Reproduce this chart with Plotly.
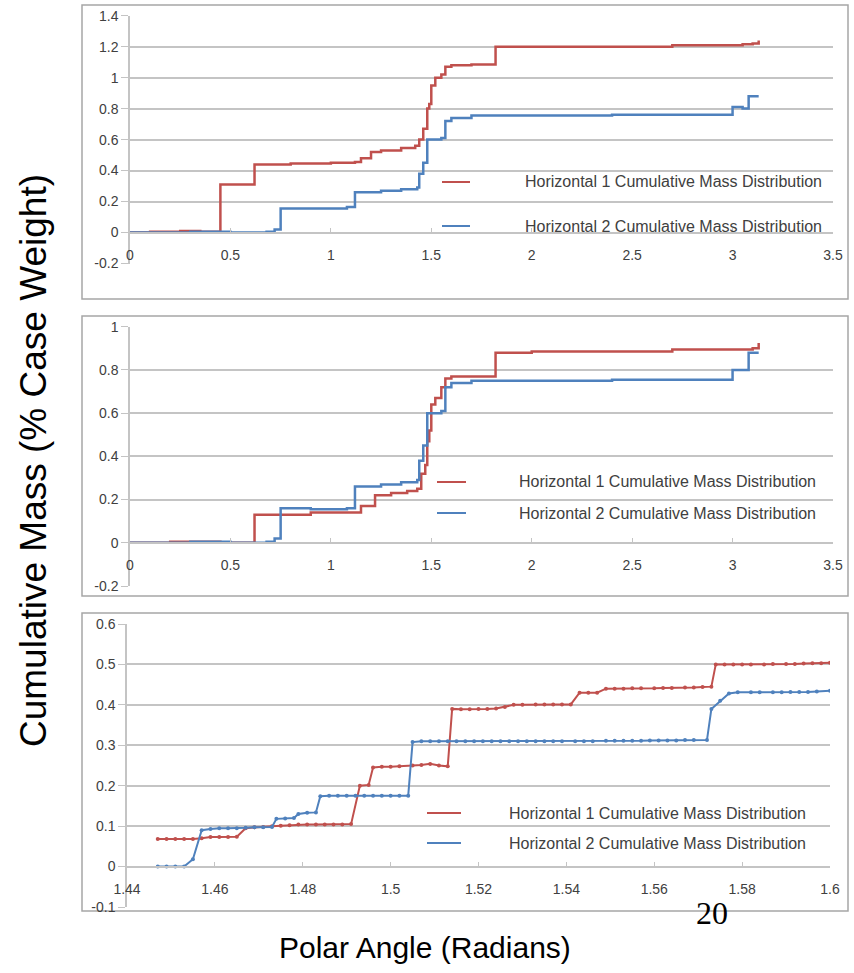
import plotly.graph_objects as go

W, H = 854, 973

# ---------------- data ----------------
series_names = ["Horizontal 1 Cumulative Mass Distribution",
                "Horizontal 2 Cumulative Mass Distribution"]

# Panel 1
p1_red_x = [0, 0.1, 0.25, 0.35, 0.45, 0.62, 0.8, 1.0, 1.12, 1.15, 1.2, 1.25, 1.35, 1.42, 1.44,
            1.46, 1.48, 1.49, 1.5, 1.52, 1.55, 1.57, 1.6, 1.7, 1.82, 2.2, 2.7, 3.05, 3.1, 3.13]
p1_red_y = [0.0, 0.005, 0.01, 0.005, 0.31, 0.44, 0.445, 0.45, 0.455, 0.48, 0.52, 0.53, 0.545, 0.56, 0.6,
            0.67, 0.8, 0.83, 0.95, 1.0, 1.02, 1.07, 1.08, 1.085, 1.2, 1.2, 1.21, 1.215, 1.22, 1.24]
p1_blue_x = [0, 0.3, 0.5, 0.68, 0.72, 0.75, 0.9, 1.08, 1.12, 1.25, 1.35, 1.43, 1.44, 1.46, 1.48,
             1.5, 1.55, 1.57, 1.6, 1.7, 2.4, 3.0, 3.05, 3.08, 3.13]
p1_blue_y = [0.0, 0.005, 0.0, 0.005, 0.02, 0.155, 0.155, 0.165, 0.26, 0.27, 0.28, 0.29, 0.38, 0.45, 0.6,
             0.6, 0.61, 0.72, 0.74, 0.755, 0.76, 0.81, 0.8, 0.88, 0.88]

# Panel 2
p2_red_x = [0, 0.2, 0.45, 0.62, 0.9, 1.12, 1.15, 1.22, 1.3, 1.38, 1.43, 1.45, 1.47, 1.48, 1.49,
            1.5, 1.52, 1.55, 1.57, 1.6, 1.82, 2.0, 2.7, 3.1, 3.13]
p2_red_y = [0.0, 0.005, 0.0, 0.13, 0.14, 0.14, 0.17, 0.22, 0.23, 0.24, 0.25, 0.32, 0.36, 0.47, 0.52,
            0.64, 0.67, 0.72, 0.76, 0.77, 0.88, 0.885, 0.895, 0.9, 0.925]
p2_blue_x = [0, 0.3, 0.5, 0.68, 0.72, 0.75, 0.9, 1.08, 1.12, 1.25, 1.35, 1.43, 1.44, 1.46, 1.48,
             1.5, 1.55, 1.57, 1.6, 1.7, 2.4, 3.0, 3.06, 3.08, 3.13]
p2_blue_y = [0.0, 0.005, 0.0, 0.005, 0.02, 0.16, 0.155, 0.16, 0.26, 0.27, 0.28, 0.29, 0.38, 0.45, 0.6,
             0.6, 0.61, 0.72, 0.74, 0.75, 0.755, 0.8, 0.8, 0.88, 0.88]

# Panel 3 (zoom 1.44 - 1.6)
p3_red_x = [1.447, 1.449, 1.451, 1.453, 1.455, 1.457, 1.459, 1.461, 1.463, 1.465, 1.467, 1.469, 1.471,
            1.473, 1.475, 1.477, 1.479, 1.481, 1.483, 1.485, 1.487, 1.489, 1.491, 1.493, 1.495, 1.496,
            1.498, 1.500, 1.502, 1.505, 1.507, 1.509, 1.511, 1.513, 1.514, 1.516, 1.518, 1.520, 1.522,
            1.524, 1.526, 1.528, 1.530, 1.533, 1.535, 1.537, 1.539, 1.541, 1.543, 1.545, 1.547, 1.549,
            1.551, 1.553, 1.555, 1.557, 1.560, 1.562, 1.564, 1.567, 1.569, 1.571, 1.573, 1.574, 1.576,
            1.578, 1.580, 1.582, 1.585, 1.587, 1.590, 1.592, 1.594, 1.596, 1.598, 1.600]
p3_red_y = [0.068, 0.068, 0.068, 0.068, 0.068, 0.070, 0.073, 0.073, 0.073, 0.074, 0.095, 0.097, 0.098,
            0.100, 0.101, 0.102, 0.104, 0.104, 0.104, 0.104, 0.104, 0.104, 0.105, 0.200, 0.202, 0.245,
            0.247, 0.247, 0.248, 0.250, 0.251, 0.254, 0.250, 0.248, 0.390, 0.389, 0.389, 0.390, 0.390,
            0.391, 0.395, 0.400, 0.400, 0.401, 0.401, 0.401, 0.401, 0.401, 0.430, 0.430, 0.430, 0.440,
            0.440, 0.440, 0.441, 0.441, 0.441, 0.442, 0.442, 0.443, 0.443, 0.444, 0.445, 0.500, 0.500,
            0.500, 0.500, 0.500, 0.500, 0.501, 0.501, 0.501, 0.502, 0.503, 0.503, 0.504]
p3_blue_x = [1.447, 1.449, 1.451, 1.453, 1.455, 1.457, 1.459, 1.461, 1.463, 1.465, 1.467, 1.469, 1.471,
             1.473, 1.474, 1.476, 1.478, 1.479, 1.481, 1.483, 1.484, 1.486, 1.488, 1.490, 1.492, 1.494,
             1.496, 1.498, 1.500, 1.502, 1.504, 1.505, 1.507, 1.509, 1.511, 1.513, 1.515, 1.517, 1.519,
             1.521, 1.523, 1.525, 1.527, 1.529, 1.531, 1.533, 1.535, 1.537, 1.539, 1.542, 1.544, 1.546,
             1.549, 1.551, 1.553, 1.555, 1.557, 1.559, 1.561, 1.563, 1.565, 1.567, 1.569, 1.572, 1.573,
             1.575, 1.577, 1.579, 1.582, 1.584, 1.587, 1.589, 1.591, 1.593, 1.595, 1.597, 1.600]
p3_blue_y = [0.000, 0.000, 0.000, 0.000, 0.018, 0.090, 0.093, 0.095, 0.095, 0.095, 0.096, 0.097, 0.097,
             0.098, 0.118, 0.119, 0.120, 0.130, 0.133, 0.134, 0.174, 0.175, 0.175, 0.175, 0.175, 0.175,
             0.175, 0.175, 0.175, 0.175, 0.175, 0.308, 0.310, 0.310, 0.310, 0.310, 0.310, 0.310, 0.310,
             0.310, 0.310, 0.310, 0.310, 0.310, 0.310, 0.310, 0.310, 0.310, 0.310, 0.310, 0.310, 0.310,
             0.311, 0.311, 0.311, 0.311, 0.311, 0.312, 0.312, 0.312, 0.312, 0.313, 0.313, 0.313, 0.390,
             0.410, 0.428, 0.431, 0.431, 0.431, 0.431, 0.431, 0.432, 0.432, 0.432, 0.433, 0.435]

# ticks
p1_yticks = [-0.2, 0, 0.2, 0.4, 0.6, 0.8, 1.0, 1.2, 1.4]
p1_ytext = ["-0.2", "0", "0.2", "0.4", "0.6", "0.8", "1", "1.2", "1.4"]
p2_yticks = [-0.2, 0, 0.2, 0.4, 0.6, 0.8, 1.0]
p2_ytext = ["-0.2", "0", "0.2", "0.4", "0.6", "0.8", "1"]
p3_yticks = [-0.1, 0, 0.1, 0.2, 0.3, 0.4, 0.5, 0.6]
p3_ytext = ["-0.1", "0", "0.1", "0.2", "0.3", "0.4", "0.5", "0.6"]
p12_xticks = [0, 0.5, 1, 1.5, 2, 2.5, 3, 3.5]
p12_xtext = ["0", "0.5", "1", "1.5", "2", "2.5", "3", "3.5"]
p3_xticks = [1.44, 1.46, 1.48, 1.5, 1.52, 1.54, 1.56, 1.58, 1.6]
p3_xtext = ["1.44", "1.46", "1.48", "1.5", "1.52", "1.54", "1.56", "1.58", "1.6"]

x_title = "Polar Angle (Radians)"
y_title = "Cumulative Mass (% Case Weight)"
slide_number = "20"

# ---------------- styling ----------------
RED = "#C0504D"
BLUE = "#4F81BD"
GRID = "#c4c4c4"
TICKFONT = dict(family="Liberation Sans, Arial", size=14, color="#404040")
LEGFONT = dict(family="Liberation Sans, Arial", size=16, color="#404040")


def px_x(p):
    return p / W


def px_y(p):
    return 1 - p / H


panels = [
    dict(top=15.7, bottom=263.5, yr=[-0.2, 1.4], yt=p1_yticks, ytt=p1_ytext,
         xr=[0, 3.5], xt=p12_xticks, xtt=p12_xtext, xd=(130, 833),
         red=(p1_red_x, p1_red_y), blue=(p1_blue_x, p1_blue_y), shape="hv", markers=False,
         box=(82, 5, 848, 299), leg=[182, 226], legx=(442, 470, 523)),
    dict(top=326.7, bottom=586, yr=[-0.2, 1.0], yt=p2_yticks, ytt=p2_ytext,
         xr=[0, 3.5], xt=p12_xticks, xtt=p12_xtext, xd=(130, 833),
         red=(p2_red_x, p2_red_y), blue=(p2_blue_x, p2_blue_y), shape="hv", markers=False,
         box=(82, 316, 848, 596), leg=[482, 513], legx=(437, 466, 517)),
    dict(top=624, bottom=907, yr=[-0.1, 0.6], yt=p3_yticks, ytt=p3_ytext,
         xr=[1.44, 1.6], xt=p3_xticks, xtt=p3_xtext, xd=(127, 830),
         red=(p3_red_x, p3_red_y), blue=(p3_blue_x, p3_blue_y), shape="linear", markers=True,
         box=(82, 613, 848, 911), leg=[813, 843], legx=(427, 461, 507)),
]

fig = go.Figure()
shapes = []
annotations = []

for i, p in enumerate(panels, start=1):
    xa = "x" if i == 1 else f"x{i}"
    ya = "y" if i == 1 else f"y{i}"
    mode = "lines+markers" if p["markers"] else "lines"
    for (xs, ys), col, name in ((p["red"], RED, series_names[0]), (p["blue"], BLUE, series_names[1])):
        fig.add_trace(go.Scatter(
            x=xs, y=ys, mode=mode, name=name, showlegend=False,
            line=dict(color=col, width=2.5 if not p["markers"] else 2, shape=p["shape"]),
            marker=dict(size=4, color=col, symbol="circle"),
            xaxis=xa, yaxis=ya))
    ydom = [px_y(p["bottom"]), px_y(p["top"])]
    span = p["yr"][1] - p["yr"][0]
    zero_frac = (0 - p["yr"][0]) / span
    zero_paper = ydom[0] + zero_frac * (ydom[1] - ydom[0])
    xkey = "xaxis" if i == 1 else f"xaxis{i}"
    ykey = "yaxis" if i == 1 else f"yaxis{i}"
    fig.update_layout(**{
        xkey: dict(domain=[px_x(p["xd"][0]), px_x(p["xd"][1])], range=p["xr"], anchor="free",
                   position=zero_paper,
                   tickvals=p["xt"], ticktext=p["xtt"], showgrid=False, zeroline=False,
                   showline=True, linecolor=GRID, linewidth=1.5,
                   ticks="inside", ticklen=4, tickcolor=GRID, automargin=False,
                   ticklabelstandoff=10, tickfont=TICKFONT, fixedrange=True),
        ykey: dict(domain=ydom, range=p["yr"], anchor=xa, automargin=False,
                   tickvals=p["yt"], ticktext=p["ytt"], showgrid=True, gridcolor=GRID, gridwidth=1.5,
                   zeroline=False, showline=True, linecolor=GRID, linewidth=1.5,
                   ticks="outside", ticklen=7, tickcolor=GRID, tickfont=TICKFONT, fixedrange=True),
    })
    bx0, by0, bx1, by1 = p["box"]
    shapes.append(dict(type="rect", xref="paper", yref="paper",
                       x0=px_x(bx0), x1=px_x(bx1), y0=px_y(by1), y1=px_y(by0),
                       line=dict(color="#a6a6a6", width=1.5), layer="below"))
    lx0, lx1, tx = p["legx"]
    for ly, col, name in zip(p["leg"], (RED, BLUE), series_names):
        shapes.append(dict(type="line", xref="paper", yref="paper",
                           x0=px_x(lx0), x1=px_x(lx1), y0=px_y(ly), y1=px_y(ly),
                           line=dict(color=col, width=2)))
        annotations.append(dict(text=name, xref="paper", yref="paper", x=px_x(tx), y=px_y(ly),
                                xanchor="left", yanchor="middle", showarrow=False, font=LEGFONT))

annotations.append(dict(text=y_title, xref="paper", yref="paper", x=px_x(33), y=px_y(461),
                        xanchor="center", yanchor="middle", textangle=-90, showarrow=False,
                        font=dict(family="Liberation Sans, Arial", size=37, color="black")))
annotations.append(dict(text=x_title, xref="paper", yref="paper", x=px_x(425), y=px_y(947),
                        xanchor="center", yanchor="middle", showarrow=False,
                        font=dict(family="Liberation Sans, Arial", size=30, color="black")))
annotations.append(dict(text=slide_number, xref="paper", yref="paper", x=px_x(712), y=px_y(913),
                        xanchor="center", yanchor="middle", showarrow=False,
                        font=dict(family="Liberation Serif, Times New Roman", size=32, color="black")))

fig.update_layout(width=W, height=H, autosize=False, margin=dict(l=0, r=0, t=0, b=0),
                  paper_bgcolor="white", plot_bgcolor="white",
                  shapes=shapes, annotations=annotations, showlegend=False)

fig.write_html("out.html", config={"displayModeBar": False},
               post_script="document.body.style.margin='0';document.body.style.overflow='hidden';")
